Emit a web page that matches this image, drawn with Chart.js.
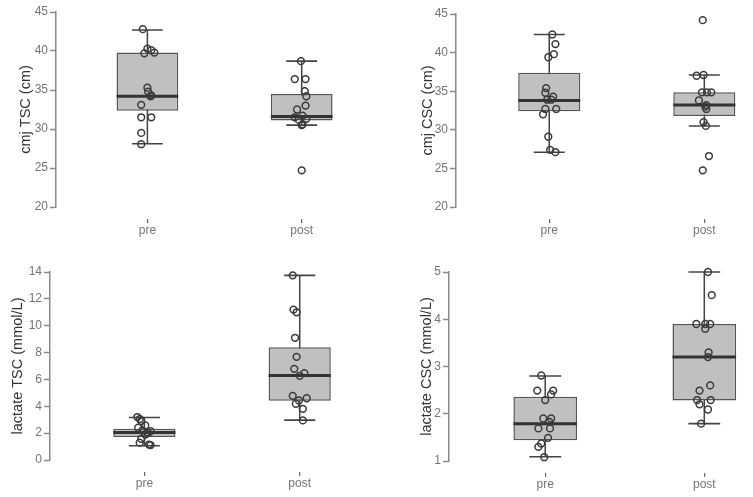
<!DOCTYPE html>
<html>
<head>
<meta charset="utf-8">
<script src="https://cdn.jsdelivr.net/npm/chart.js@4.4.1/dist/chart.umd.min.js"></script>
<style>
  html, body { margin: 0; padding: 0; background: #fff; }
  #wrap { position: relative; width: 753px; height: 497px; overflow: hidden; }
  canvas { position: absolute; }
</style>
</head>
<body>
<div id="wrap">
  <canvas id="cmjTsc" width="376" height="248" style="left:0;top:0"></canvas>
  <canvas id="cmjCsc" width="377" height="248" style="left:376px;top:0"></canvas>
  <canvas id="lacTsc" width="376" height="249" style="left:0;top:248px"></canvas>
  <canvas id="lacCsc" width="377" height="249" style="left:376px;top:248px"></canvas>
</div>
<script>
const groups = ['pre', 'post'];

const cmjTicks = [20, 25, 30, 35, 40, 45];
const lactateTscTicks = [0, 2, 4, 6, 8, 10, 12, 14];
const lactateCscTicks = [1, 2, 3, 4, 5];

// box stats: [lower whisker, Q1, median, Q3, upper whisker]
const cmjTscPreBox = [28.1, 32.35, 34.2, 39.8, 42.7];
const cmjTscPostBox = [30.5, 31.1, 31.6, 34.5, 38.7];
const cmjCscPreBox = [27.1, 32.4, 33.8, 37.4, 42.35];
const cmjCscPostBox = [30.5, 31.8, 33.2, 34.85, 37.1];
const lacTscPreBox = [1.06, 1.71, 2.05, 2.33, 3.17];
const lacTscPostBox = [2.97, 4.41, 6.29, 8.4, 13.75];
const lacCscPreBox = [1.09, 1.44, 1.79, 2.36, 2.8];
const lacCscPostBox = [1.79, 2.28, 3.2, 3.9, 5.0];

// individual values and their horizontal jitter (in group units)
const cmjTscPre = [42.8, 40.3, 40.1, 39.8, 39.7, 35.3, 34.8, 34.2, 34.3, 33.1, 31.5, 31.5, 29.5, 28.05];
const cmjTscPreJitter = [-0.03, 0, 0.025, 0.045, -0.02, 0, 0.005, 0.02, 0.025, -0.04, -0.04, 0.025, -0.04, -0.04];
const cmjTscPost = [38.7, 36.4, 36.4, 34.85, 34.2, 33.0, 32.5, 31.7, 31.5, 31.3, 31.2, 30.6, 30.5, 24.7];
const cmjTscPostJitter = [-0.005, -0.045, 0.025, 0.02, 0.03, 0.025, -0.03, 0.005, -0.045, 0.03, -0.02, 0.005, 0, 0];

const cmjCscPre = [42.35, 41.1, 39.8, 39.4, 35.4, 34.8, 34.3, 33.9, 33.9, 32.7, 32.7, 32.0, 29.1, 27.4, 27.1];
const cmjCscPreJitter = [0.02, 0.04, 0.03, -0.006, -0.02, -0.025, 0.025, -0.013, 0.013, -0.025, 0.045, -0.04, -0.006, 0.006, 0.04];
const cmjCscPost = [44.2, 37.0, 37.1, 34.85, 34.85, 34.85, 33.8, 33.2, 33.0, 32.7, 31.0, 30.5, 26.6, 24.75];
const cmjCscPostJitter = [-0.01, -0.05, -0.005, -0.015, 0.017, 0.045, -0.035, 0.013, 0.006, 0.013, -0.005, 0.01, 0.03, -0.01];

const lacTscPre = [3.2, 3.05, 2.9, 2.57, 2.4, 2.2, 2.15, 2.05, 2.0, 1.9, 1.58, 1.29, 1.15, 1.11];
const lacTscPreJitter = [-0.045, -0.03, -0.02, 0.006, -0.04, -0.013, 0.04, 0.02, 0.025, 0.006, -0.02, -0.03, 0.03, 0.04];
const lacTscPost = [13.75, 11.2, 11.0, 9.1, 7.68, 6.79, 6.47, 6.27, 4.78, 4.6, 4.43, 4.19, 3.81, 2.95];
const lacTscPostJitter = [-0.045, -0.04, -0.02, -0.03, -0.02, -0.035, 0.03, 0, -0.045, 0.045, -0.005, -0.025, 0.02, 0.02];

const lacCscPre = [2.81, 2.49, 2.49, 2.41, 2.29, 1.9, 1.9, 1.83, 1.69, 1.69, 1.49, 1.37, 1.3, 1.08];
const lacCscPreJitter = [-0.025, -0.05, 0.05, 0.037, 0, -0.012, 0.037, 0.025, -0.043, 0.03, 0.018, -0.025, -0.043, -0.006];
const lacCscPost = [5.0, 4.51, 3.9, 3.9, 3.9, 3.8, 3.3, 3.2, 2.6, 2.49, 2.29, 2.29, 2.2, 2.09, 1.79];
const lacCscPostJitter = [0.023, 0.047, -0.05, 0.006, 0.037, 0.006, 0.027, 0.023, 0.037, -0.03, -0.045, 0.04, -0.03, 0.023, -0.02];

const FONT = "'Liberation Sans', Arial, sans-serif";
const BOX_HALF = 0.2;
const CAP_HALF = 0.1;
const AXIS_GREY = '#8a8a8a';
const LABEL_GREY = '#747474';
const DARK = '#3a3a3a';
const TITLE_SIZE = 14.5;
const X_GAP = 11;

Chart.defaults.font.family = FONT;
Chart.defaults.animation = false;

function toPoints(values, jitter, groupIndex) {
  return values.map((v, i) => ({ x: groupIndex + jitter[i], y: v }));
}

function groupTicks(scale) {
  scale.ticks = groups.map((_, i) => ({ value: i }));
}

function buildPanel(canvasId, cfg) {
  const canvas = document.getElementById(canvasId);
  const W = canvas.width;
  const H = canvas.height;
  const unit = cfg.postX - cfg.preX;
  const xMin = (cfg.axisX - cfg.preX) / unit;
  const xMax = (W - cfg.preX) / unit;
  const padLeft = cfg.titleX - TITLE_SIZE / 2;
  const yWidth = cfg.axisX - padLeft;
  const xHeight = H - cfg.bottom;

  const boxes = [cfg.preBox, cfg.postBox];
  const stems = [];
  const caps = [];
  const medians = [];
  const bars = [];

  boxes.forEach((b, i) => {
    stems.push({ x: i, y: b[0] }, { x: i, y: b[4] }, { x: i, y: null });
    caps.push(
      { x: i - CAP_HALF, y: b[0] }, { x: i + CAP_HALF, y: b[0] }, { x: i, y: null },
      { x: i - CAP_HALF, y: b[4] }, { x: i + CAP_HALF, y: b[4] }, { x: i, y: null }
    );
    medians.push({ x: i - BOX_HALF, y: b[2] }, { x: i + BOX_HALF, y: b[2] }, { x: i, y: null });
    bars.push({ x: i, y: [b[1], b[3]] });
  });

  const points = toPoints(cfg.pre, cfg.preJitter, 0).concat(toPoints(cfg.post, cfg.postJitter, 1));
  const yTicks = cfg.ticks;

  new Chart(canvas, {
    type: 'scatter',
    data: {
      datasets: [
        {
          type: 'scatter',
          data: stems,
          showLine: true,
          borderColor: '#444444',
          borderWidth: 1.5,
          pointRadius: 0,
          order: 5,
          clip: false,
        },
        {
          type: 'bar',
          data: bars,
          backgroundColor: '#c0c0c0',
          borderColor: '#555555',
          borderWidth: 1.5,
          borderSkipped: false,
          barPercentage: BOX_HALF * 2,
          categoryPercentage: 1,
          order: 4,
        },
        {
          type: 'scatter',
          data: caps,
          showLine: true,
          borderColor: '#444444',
          borderWidth: 1.6,
          pointRadius: 0,
          order: 3,
          clip: false,
        },
        {
          type: 'scatter',
          data: medians,
          showLine: true,
          borderColor: '#333333',
          borderWidth: 3,
          pointRadius: 0,
          order: 2,
          clip: false,
        },
        {
          type: 'scatter',
          data: points,
          pointRadius: 3.4,
          pointBorderWidth: 1.5,
          pointBorderColor: DARK,
          pointBackgroundColor: 'rgba(255,255,255,0)',
          order: 1,
          clip: false,
        },
      ],
    },
    options: {
      responsive: false,
      animation: false,
      events: [],
      layout: {
        padding: { left: padLeft, top: cfg.top, right: 0, bottom: 0 },
      },
      plugins: {
        legend: { display: false },
        tooltip: { enabled: false },
      },
      scales: {
        // data axis: invisible, just leaves the gap under the plot
        x: {
          type: 'linear',
          position: 'bottom',
          weight: 0,
          min: xMin,
          max: xMax,
          offset: false,
          afterBuildTicks: groupTicks,
          afterFit: (scale) => {
            scale.height = X_GAP;
          },
          border: { display: false },
          grid: { display: false, offset: false },
          ticks: { display: false },
        },
        // label axis with the short tick marks
        xLabels: {
          type: 'linear',
          position: 'bottom',
          weight: 1,
          min: xMin,
          max: xMax,
          offset: false,
          afterBuildTicks: groupTicks,
          afterFit: (scale) => {
            scale.height = xHeight - X_GAP;
          },
          border: { display: true, color: 'rgba(255,255,255,0)', width: 1 },
          grid: {
            display: true,
            offset: false,
            drawOnChartArea: false,
            drawTicks: true,
            tickLength: 5,
            color: '#666666',
            lineWidth: 1.2,
            tickColor: '#666666',
            tickWidth: 1.2,
          },
          ticks: {
            color: LABEL_GREY,
            font: { size: 12 },
            padding: 0,
            autoSkip: false,
            maxRotation: 0,
            callback: (value) => groups[value],
          },
        },
        y: {
          type: 'linear',
          min: yTicks[0],
          max: yTicks[yTicks.length - 1],
          afterBuildTicks: (scale) => {
            scale.ticks = yTicks.map((v) => ({ value: v }));
          },
          afterFit: (scale) => {
            scale.width = yWidth;
          },
          border: { display: true, color: AXIS_GREY, width: 1.5 },
          grid: {
            drawOnChartArea: false,
            drawTicks: true,
            tickLength: 6,
            tickColor: AXIS_GREY,
            tickWidth: 1.5,
          },
          ticks: {
            color: LABEL_GREY,
            font: { size: 12 },
            padding: 2,
          },
          title: {
            display: true,
            text: cfg.title,
            color: '#333333',
            font: { size: TITLE_SIZE, lineHeight: 1 },
            padding: 0,
          },
        },
      },
    },
  });
}

buildPanel('cmjTsc', {
  title: 'cmj TSC (cm)', ticks: cmjTicks,
  pre: cmjTscPre, preJitter: cmjTscPreJitter, post: cmjTscPost, postJitter: cmjTscPostJitter,
  preBox: cmjTscPreBox, postBox: cmjTscPostBox,
  axisX: 56, preX: 149, postX: 306, top: 12, bottom: 207, titleX: 26,
});

buildPanel('cmjCsc', {
  title: 'cmj CSC (cm)', ticks: cmjTicks,
  pre: cmjCscPre, preJitter: cmjCscPreJitter, post: cmjCscPost, postJitter: cmjCscPostJitter,
  preBox: cmjCscPreBox, postBox: cmjCscPostBox,
  axisX: 80, preX: 175, postX: 333, top: 14, bottom: 207, titleX: 52,
});

buildPanel('lacTsc', {
  title: 'lactate TSC (mmol/L)', ticks: lactateTscTicks,
  pre: lacTscPre, preJitter: lacTscPreJitter, post: lacTscPost, postJitter: lacTscPostJitter,
  preBox: lacTscPreBox, postBox: lacTscPostBox,
  axisX: 50, preX: 146, postX: 304, top: 24, bottom: 212, titleX: 18,
});

buildPanel('lacCsc', {
  title: 'lactate CSC (mmol/L)', ticks: lactateCscTicks,
  pre: lacCscPre, preJitter: lacCscPreJitter, post: lacCscPost, postJitter: lacCscPostJitter,
  preBox: lacCscPreBox, postBox: lacCscPostBox,
  axisX: 73, preX: 171, postX: 333, top: 24, bottom: 213, titleX: 51,
});
</script>
</body>
</html>
